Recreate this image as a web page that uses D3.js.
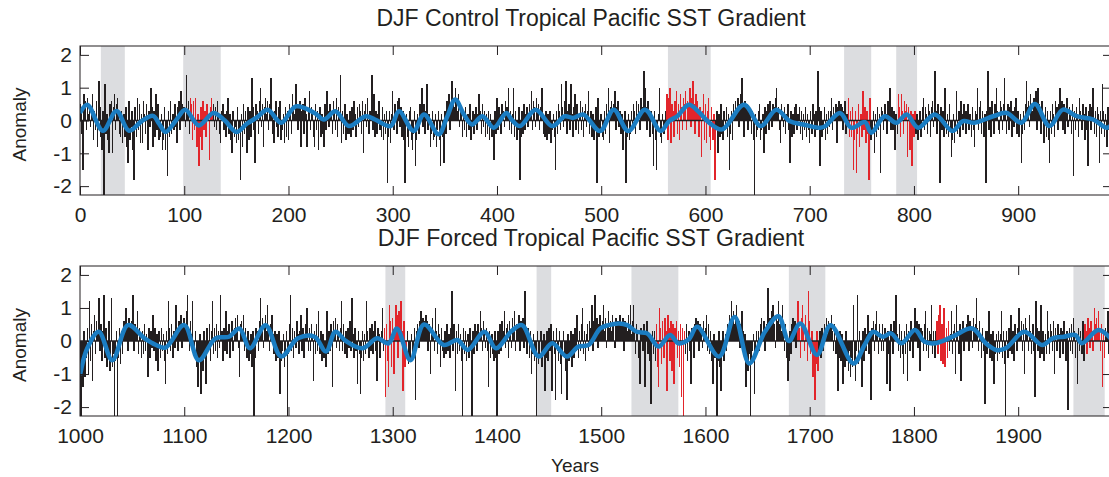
<!DOCTYPE html>
<html>
<head>
<meta charset="utf-8">
<script src="https://cdn.jsdelivr.net/npm/d3@7"></script>
<style>
  body { margin: 0; background: #fff; }
  svg { display: block; font-family: 'Liberation Sans', Arial, Helvetica, sans-serif; }
</style>
</head>
<body>
<div id="chart"></div>
<script>
// yearly DJF anomalies, control run (years 0..989)
const controlAnom = [
  0.5,0.3,-0.4,-1.5,0.8,0.6,-0.3,0.7,0.2,0.5,
  -0.2,0.4,0.8,-0.6,0.3,-0.3,0.6,-0.8,1.2,0.4,
  -0.5,-0.9,0.3,-2.3,1.1,-0.4,0.2,-0.6,-1.0,0.5,
  0.6,-1.0,0.4,0.8,-0.3,0.5,0.7,0.2,-0.4,-0.5,
  0.3,-0.7,0.2,-0.5,0.4,-0.8,-1.3,0.6,-0.6,-0.2,
  0.3,-0.9,-1.8,0.4,-0.5,0.7,-0.3,0.5,-0.7,0.2,
  -0.7,0.6,0.2,-0.4,0.5,-0.9,0.3,-0.2,1.0,0.4,
  -0.8,0.3,-0.5,0.8,-0.3,0.5,-0.6,-0.5,0.2,-0.9,
  -0.6,0.4,-0.9,-0.3,-1.7,0.3,-0.5,0.6,-0.4,0.2,
  -0.3,0.5,-0.2,-0.7,0.4,0.6,-0.3,0.9,0.5,0.2,
  0.4,-0.2,1.4,0.3,0.6,-0.4,0.7,0.5,-0.6,0.6,
  -0.3,0.7,-0.8,0.2,-1.4,-0.5,0.4,-0.9,0.6,-0.3,
  0.3,-0.5,0.5,0.2,-1.2,0.4,0.7,0.3,0.5,-0.2,
  0.4,-0.3,0.6,0.2,-0.4,-0.7,0.3,0.5,-0.3,0.2,
  -0.5,0.3,0.7,-0.4,0.2,-0.6,-1.0,0.3,-0.5,-0.2,
  -0.7,0.4,-0.6,-0.3,-1.8,0.2,-0.8,0.5,-0.4,0.3,
  -1.0,0.4,-0.6,0.3,-0.5,1.3,0.4,-0.3,-1.3,0.5,
  0.3,-0.4,0.6,1.0,-0.2,0.5,-0.8,0.4,0.7,0.2,
  0.6,-0.3,0.5,1.3,0.2,-0.4,-0.7,0.3,0.6,-0.2,
  -0.5,0.4,0.6,-0.6,-0.3,0.2,-0.7,0.4,-0.5,0.3,
  -0.6,0.5,0.3,-0.4,0.8,0.4,0.2,1.1,0.5,-0.3,
  0.4,0.6,-0.8,0.3,0.5,-0.4,0.7,0.2,-0.8,0.3,
  0.9,-0.3,0.4,0.2,-0.5,-0.8,0.5,-0.3,0.3,-0.9,
  0.4,-0.5,0.2,-0.4,-0.8,0.5,-0.3,0.9,0.3,-0.2,
  0.5,0.2,-0.4,0.6,0.3,-0.3,0.7,-0.5,0.4,0.2,
  1.4,-0.7,0.3,-0.4,0.5,-0.6,0.2,-0.4,-0.4,0.3,
  -0.5,0.4,-0.3,0.6,0.2,-0.5,0.4,-0.2,0.5,0.3,
  -0.4,0.6,-1.0,0.3,0.5,-0.2,0.7,-0.4,0.3,0.2,
  1.4,-0.3,0.8,-0.5,0.3,-0.4,0.2,0.6,-0.3,-0.5,
  0.4,-0.6,0.2,-0.4,0.3,-1.9,-0.5,0.3,-0.7,0.2,
  0.9,-0.3,0.5,0.3,-0.4,0.6,0.7,-0.2,0.4,-0.5,
  0.3,-0.6,-1.9,0.2,-0.5,-0.8,0.3,0.4,-0.6,-0.9,
  -0.4,0.3,-1.4,-0.6,0.2,-0.4,0.5,0.3,1.0,-0.2,
  0.5,-0.4,0.3,1.1,-0.3,0.2,-0.8,-0.4,0.3,-0.6,
  -0.5,0.2,-0.8,-0.3,0.3,-0.6,-1.4,0.2,-0.5,-1.3,
  0.3,-0.4,0.6,0.2,0.8,-0.3,0.5,1.2,0.7,0.4,
  1.0,0.6,0.3,0.8,-0.2,0.4,0.2,-0.5,0.3,-0.3,
  0.4,-0.5,0.2,-0.3,0.5,-0.6,-0.2,0.3,-0.4,0.2,
  0.4,-0.3,0.2,0.8,0.3,-0.4,0.5,-0.2,0.3,-0.5,
  0.2,-0.4,0.3,-0.6,0.2,-0.5,-0.3,-1.2,0.3,-0.4,
  0.7,-0.3,0.4,0.2,-0.4,0.5,0.3,-0.2,0.6,0.4,
  0.4,1.0,-0.3,0.3,-0.4,0.2,1.0,-0.5,0.3,-0.6,
  -0.3,0.4,-1.8,-0.5,0.3,-0.4,0.5,-0.3,0.2,0.4,
  -0.2,0.5,0.3,0.9,-0.3,0.6,0.4,-0.2,0.7,0.3,
  0.5,-0.3,0.4,1.0,0.2,-0.4,-0.5,0.3,-0.6,0.2,
  -0.4,0.3,-0.7,-0.3,0.2,-0.5,-1.5,0.3,-0.4,0.5,
  0.3,-0.3,1.1,0.4,-0.2,0.6,1.2,-0.4,0.3,0.5,
  -0.3,1.1,0.2,-0.5,0.4,0.8,-0.3,0.5,-0.4,0.2,
  0.6,-0.3,0.4,-0.5,0.3,0.5,-0.2,0.3,0.9,-0.4,
  0.3,-0.5,0.2,-0.6,-0.3,0.4,-1.9,0.7,-0.5,-0.3,
  0.2,-0.5,-0.6,0.3,-0.4,0.5,0.2,1.0,-0.7,0.4,
  0.6,0.3,0.5,0.9,-0.3,0.4,0.6,-0.2,0.3,-0.4,
  0.2,-0.9,-0.3,0.3,-1.9,-0.5,0.2,-0.6,-0.4,0.3,
  -0.2,0.5,0.3,-0.4,0.6,0.2,0.5,-0.3,0.7,0.4,
  0.3,1.5,1.0,0.4,-0.3,0.6,0.2,-0.5,0.3,-0.4,
  -1.4,0.3,-0.6,-1.5,-0.3,0.2,1.0,-0.5,-0.7,0.2,
  -0.4,-0.1,0.3,0.8,-0.6,0.7,1.0,-0.7,0.5,0.3,
  -0.5,0.6,0.9,-0.4,0.5,-0.6,0.8,0.4,-0.3,0.7,
  0.5,0.9,-0.3,0.6,0.4,1.0,-0.2,0.7,1.2,0.5,
  -0.4,0.8,0.6,0.3,-0.5,0.4,-1.1,0.3,0.8,-0.6,
  0.5,-0.7,0.3,0.7,-0.5,-0.9,0.4,-0.6,0.2,-1.8,
  -0.3,0.3,-1.0,0.2,-0.5,0.5,-0.4,-0.6,0.3,-0.3,
  0.4,-0.5,0.2,-1.5,-0.4,0.3,-0.6,0.5,0.2,0.6,
  0.3,0.7,-0.2,0.5,0.8,1.3,0.4,-0.5,0.6,0.3,
  0.5,-0.3,0.4,0.2,-0.4,0.3,-0.6,-2.3,0.2,-0.5,
  -0.3,0.3,0.5,-0.6,-0.3,0.2,-1.0,0.4,-0.4,0.3,
  0.5,-0.3,0.6,0.3,-0.2,0.5,0.4,0.7,1.0,0.3,
  0.4,-0.3,-0.7,0.5,0.3,-0.2,0.4,-0.4,0.2,0.5,
  -0.3,-1.3,0.3,-0.5,0.2,-0.4,0.4,0.5,-0.3,0.2,
  0.4,-0.4,0.3,-0.6,0.2,-0.3,0.4,-0.5,0.2,-0.3,
  -0.7,0.3,-0.4,0.5,0.2,-0.5,0.3,-0.3,1.5,0.4,
  -1.4,0.3,-0.5,-0.3,0.4,-0.6,0.2,-0.4,0.3,-0.2,
  0.3,0.7,-0.3,0.4,0.2,0.5,-0.7,0.4,0.6,0.3,
  0.5,0.4,-0.3,0.3,0.6,-0.4,0.2,0.7,-0.5,0.3,
  -0.5,0.4,-1.5,-0.6,0.3,-1.6,-0.4,0.5,-0.8,0.2,
  -0.5,0.9,-0.3,0.4,-0.7,0.3,-0.4,-1.8,0.7,-0.6,
  -0.4,0.3,-1.0,0.2,-0.5,0.4,-0.3,0.2,-1.6,0.4,
  0.3,-0.3,0.5,0.2,-0.4,0.6,0.3,1.0,-0.3,0.4,
  -0.3,0.3,-0.9,0.2,-0.4,0.8,0.4,-0.5,0.8,0.3,
  -0.4,0.6,0.3,0.5,-1.1,0.4,-0.9,0.3,-1.4,0.2,
  -0.5,0.3,-0.4,0.2,-0.6,-0.3,0.3,-0.5,0.4,0.7,
  -0.3,0.4,0.2,-0.4,0.5,0.3,-0.5,0.4,0.6,-0.2,
  1.5,0.3,-0.4,0.5,0.2,-1.9,0.4,-0.3,0.3,-0.5,
  1.0,-0.4,0.2,-0.5,0.5,-0.3,-1.1,-0.6,0.2,-0.7,
  -0.3,0.9,-0.4,0.3,-0.5,0.6,0.2,-0.3,0.5,0.3,
  -0.4,0.3,0.5,-0.3,0.2,-0.5,0.4,-0.3,-0.8,0.3,
  0.2,1.0,-0.3,0.4,0.6,-0.4,0.3,-0.5,0.2,-1.9,
  0.3,1.5,-0.3,0.4,-0.5,0.6,0.2,-0.4,0.5,1.0,
  0.3,-0.3,-0.4,0.6,0.4,-0.3,0.5,1.3,0.3,-0.4,
  0.5,-0.3,0.4,0.6,-0.5,0.3,-0.2,0.4,0.7,-0.4,
  0.3,-0.5,0.2,-1.3,-0.4,0.3,-0.3,0.5,1.2,0.4,
  0.6,-0.2,0.8,0.5,0.3,0.7,0.4,0.9,-0.3,1.0,
  0.5,0.3,-0.4,0.6,0.2,-0.7,0.4,-0.5,0.3,-0.6,
  -1.3,0.3,-0.4,0.5,0.2,-0.5,0.6,0.4,-0.3,0.5,
  1.0,0.4,0.6,-0.3,0.5,-0.4,0.3,0.7,-0.2,0.4,
  0.3,-0.4,0.5,-1.7,0.3,-0.3,0.4,0.2,-0.5,0.7,
  0.3,-0.3,0.5,0.2,-0.6,0.4,-0.3,-1.4,0.3,0.5,
  -0.3,0.4,1.0,-0.4,0.3,-0.5,0.4,0.2,-1.3,0.3,
  -0.4,1.1,0.3,-0.5,0.2,-0.8,0.4,-0.3,0.9,-0.4
]

// yearly DJF anomalies, forced run (years 1000..1989)
const forcedAnom = [
  -1.3,-2.3,-0.8,-1.4,0.3,-1.1,-0.5,0.4,-1.0,1.2,
  -0.6,0.5,-1.2,0.3,0.8,-0.4,0.6,0.2,1.3,-0.3,
  0.5,-0.6,0.3,1.4,-0.5,0.4,-0.8,-0.3,0.6,-0.9,
  1.3,-0.8,-0.4,-2.3,-0.6,0.3,-2.3,-0.5,0.4,-0.7,
  0.3,-0.4,0.6,0.4,1.0,0.5,-0.3,0.7,0.4,0.2,
  0.6,1.4,-0.3,0.5,0.3,0.9,-0.4,0.4,0.2,-0.5,
  0.3,-0.4,0.5,-0.3,0.2,-1.1,0.4,-0.5,0.3,-0.2,
  0.8,-0.3,0.4,-0.6,0.2,-0.9,0.3,-0.5,0.4,-0.3,
  0.2,-0.6,-1.3,0.3,-0.4,1.2,0.4,-0.3,0.5,-0.5,
  0.3,-0.2,1.1,0.4,-0.3,0.6,0.3,0.8,-0.2,0.5,
  0.7,0.4,0.9,1.4,0.3,-0.3,0.6,0.2,1.2,-0.4,
  -0.5,0.3,-0.8,-1.4,-0.6,0.2,-1.6,-0.4,-0.9,0.3,
  -0.5,-1.3,0.4,-0.3,0.5,-0.6,0.3,1.2,-0.4,0.4,
  -0.3,0.5,-0.5,0.3,-0.2,1.4,0.3,-0.6,0.4,-0.3,
  0.9,-0.4,0.3,0.5,-0.5,0.2,0.6,-0.3,0.4,0.7,
  0.3,0.8,-0.2,-1.1,0.5,0.6,0.3,0.8,-0.3,0.4,
  -0.5,0.3,-0.6,-0.4,0.2,-0.8,0.3,-2.3,-0.5,0.4,
  0.3,-0.3,0.6,1.3,0.4,0.7,-0.2,0.5,0.8,0.3,
  1.1,0.4,-0.3,0.5,0.8,0.2,-0.4,0.3,-0.6,0.2,
  -0.5,0.3,-1.6,-0.6,-0.3,0.2,-0.8,-0.4,0.3,-2.3,
  -0.4,0.5,1.4,-0.3,0.4,-0.5,0.3,-0.2,0.6,0.2,
  -0.4,0.3,0.8,-0.3,0.4,-0.5,0.2,0.5,1.0,-0.3,
  0.4,-0.3,0.5,0.2,-1.2,0.3,-0.4,0.5,-0.3,0.9,
  -0.4,0.3,-0.6,0.2,-0.5,-0.3,-0.8,0.9,-0.4,0.3,
  -0.3,0.5,-1.4,0.6,0.3,0.7,-0.2,0.5,0.3,-0.3,
  0.4,1.2,-0.3,0.5,-0.4,0.3,-0.5,0.4,-0.2,0.6,
  -0.3,1.3,0.2,-0.5,0.4,-0.3,-1.3,0.3,-0.4,-1.6,
  -0.5,0.3,-0.6,0.2,-0.4,1.2,0.3,-0.5,0.4,-0.3,
  0.5,-0.4,0.3,0.6,-0.3,-1.2,0.4,0.2,-0.5,0.3,
  1.0,-0.3,0.4,-1.7,0.5,-0.6,-1.4,1.1,0.6,-0.8,
  0.7,-1.0,0.4,1.1,0.8,-0.5,0.9,0.5,1.2,0.3,
  -1.5,0.6,-0.8,-0.4,0.3,-0.7,-0.5,-0.5,0.2,-0.6,
  -0.3,0.4,-1.8,0.3,0.5,-0.2,0.6,0.9,0.4,0.7,
  0.6,0.3,0.8,0.6,-0.3,0.5,-1.0,0.4,0.7,0.2,
  -0.3,1.0,0.3,-0.4,0.5,0.2,-0.8,0.4,-0.3,-0.5,
  0.3,-0.4,0.5,-0.3,0.2,-0.5,0.4,1.5,-0.3,0.5,
  -1.5,0.3,-0.4,0.5,-0.3,0.2,-0.6,-2.3,0.4,-0.4,
  0.3,-0.6,0.2,-0.5,0.4,-0.3,-2.3,0.3,-0.4,0.5,
  0.3,-0.3,0.5,0.2,0.9,0.4,-0.3,0.6,0.3,-0.2,
  0.4,-0.3,-1.4,0.3,-0.5,0.2,-0.4,-0.6,0.3,-0.5,
  -2.3,0.3,-0.4,0.5,-0.3,0.6,0.3,0.9,-0.2,0.4,
  0.5,-0.5,0.6,0.3,-0.2,0.7,0.4,0.9,-0.3,0.5,
  0.3,0.8,-0.3,0.6,0.4,0.7,-0.2,1.5,0.3,-0.4,
  0.4,-0.5,0.3,-1.0,-0.4,0.2,-0.6,-0.3,-2.3,0.3,
  -0.7,-0.4,0.3,-0.8,-0.3,0.2,-1.5,-0.5,0.3,-0.6,
  0.4,-0.3,0.5,-1.5,0.3,-0.4,-1.8,0.4,-0.3,-0.6,
  0.3,-0.7,-1.6,-0.4,0.3,-0.5,-0.9,-1.8,0.2,-0.6,
  -0.4,0.3,-0.8,0.2,-0.5,0.4,-0.3,0.8,-0.5,0.3,
  -0.3,0.5,1.0,-0.4,0.3,-0.6,0.2,0.5,-0.3,0.6,
  0.4,1.1,-0.3,0.6,1.4,0.3,0.7,-0.2,0.5,0.8,
  0.4,0.6,1.1,0.3,0.7,-0.2,0.5,0.9,0.4,0.6,
  0.3,0.8,0.5,-0.2,0.7,0.4,0.6,0.3,0.8,0.5,
  0.4,0.7,-0.3,0.6,0.5,0.3,0.8,0.4,1.1,0.2,
  0.6,1.1,0.3,-0.4,0.5,0.2,-0.5,-1.3,0.4,0.3,
  -0.3,0.5,-1.4,0.3,0.6,-0.4,0.2,-0.6,-1.9,0.3,
  -0.4,0.3,-0.6,0.5,-0.8,-1.4,1.0,0.4,-0.7,0.6,
  -0.5,0.7,0.3,-1.5,0.8,0.4,-0.6,0.6,-0.9,0.5,
  -1.3,0.4,0.6,-0.5,0.3,-0.8,0.5,-1.7,0.4,-2.3,
  0.3,-0.4,0.5,-0.6,0.3,-0.3,-1.3,0.4,0.2,-0.5,
  0.5,0.7,0.3,0.6,-0.3,0.5,0.4,-0.2,0.6,0.3,
  0.4,0.8,-0.3,0.5,-0.4,0.3,-0.6,-1.3,0.2,-0.5,
  -0.4,-2.3,-0.6,0.3,-0.8,-1.5,-0.4,0.3,-0.6,0.2,
  -0.3,0.5,0.3,0.8,0.4,1.2,0.6,0.9,0.5,0.7,
  1.1,0.4,0.6,-0.2,0.5,0.9,0.3,-0.4,0.2,-1.4,
  -0.6,-0.9,-0.4,-2.3,-0.7,-0.3,0.2,-1.6,-0.5,0.3,
  -0.4,0.3,-0.3,0.5,0.7,0.2,0.6,-0.3,0.4,0.5,
  1.6,0.4,0.7,0.3,0.9,1.1,0.5,-0.2,0.8,0.6,
  1.2,0.5,0.8,0.3,1.1,0.4,-0.3,0.5,-0.5,-1.2,
  -0.6,0.3,-0.4,0.5,0.7,0.3,0.6,-0.2,0.5,1.2,
  0.4,-0.5,0.7,1.1,0.5,-0.3,0.8,0.3,-0.6,1.5,
  0.6,-0.4,0.3,-1.1,-0.5,-1.8,-0.7,0.3,-0.9,-0.4,
  0.3,-0.5,0.4,-0.3,0.5,0.3,0.7,0.2,0.6,0.4,
  0.5,0.8,0.3,-0.3,0.5,-0.4,0.2,-1.5,-0.5,0.3,
  -0.6,0.2,-1.3,-0.4,-0.8,0.3,-0.6,-0.9,-0.3,-1.1,
  -0.5,-0.8,1.1,-0.6,-1.2,-0.3,1.4,-0.7,0.3,-0.5,
  -1.4,0.3,-0.6,0.4,-0.3,0.2,0.8,-0.4,0.3,-1.8,
  0.4,0.6,-0.3,0.5,0.9,0.3,-0.4,0.5,0.2,-0.3,
  0.5,-0.3,0.4,0.2,-1.3,0.3,-0.4,-1.5,0.5,0.3,
  -0.4,0.6,0.3,1.4,0.2,-0.3,0.5,-0.5,0.3,-0.4,
  -1.0,0.3,-0.4,0.5,-1.2,0.3,-0.3,0.6,0.2,-0.5,
  0.4,1.0,0.3,0.6,-0.2,0.5,-0.9,0.4,0.3,-0.3,
  0.5,0.9,-0.3,0.4,-0.5,0.3,0.2,1.1,-0.4,0.3,
  -0.5,0.3,0.6,-0.4,0.8,1.1,-0.6,0.5,-0.7,1.0,
  -0.8,0.4,-0.5,0.6,-0.3,0.2,0.9,-0.4,0.3,0.5,
  -1.0,1.1,0.3,-0.4,0.5,-1.2,0.3,0.6,-0.3,0.4,
  0.3,0.5,0.8,-0.3,0.6,0.4,-0.2,0.7,0.3,0.5,
  1.3,0.4,-0.3,0.6,0.2,-0.5,0.4,-0.3,-1.9,0.3,
  -0.4,0.3,0.9,-0.5,0.2,-0.6,0.3,-1.3,-0.4,0.2,
  -0.6,0.3,-0.4,0.2,0.9,-0.5,0.3,-0.7,-2.3,0.3,
  -0.5,0.4,-0.3,0.8,-0.4,0.3,-0.6,0.5,0.2,-0.3,
  0.4,1.0,0.3,0.6,-0.3,0.5,-1.0,0.7,0.4,0.3,
  -0.3,0.8,0.3,-0.4,0.5,-0.3,-1.7,1.2,0.4,-0.3,
  0.3,-0.5,1.1,-0.4,0.3,-0.6,0.2,-0.4,0.9,0.3,
  -0.4,0.5,0.3,-0.3,0.6,-1.0,0.4,-0.3,0.5,0.2,
  -0.5,0.4,0.3,-0.4,0.6,0.2,-0.6,0.3,-2.1,0.4,
  -0.3,0.5,-0.4,0.7,0.3,-0.5,0.2,-1.3,0.4,-0.3,
  0.3,-0.4,0.6,-0.6,0.5,0.3,-0.4,0.7,0.4,-0.2,
  0.6,0.3,-0.3,1.0,0.5,0.7,0.3,0.9,0.4,-0.3,
  0.5,-1.4,0.3,-0.5,0.4,0.2,0.9,-0.4,0.3,-0.2
]

// low-pass filtered curve, read at its turning points
const controlSmoothYears = [0,7,22,35,47,60,70,76,82,92,101,114,128,139,150,160,170,180,193,207,225,234,245,258,274,283,298,306,320,330,344,352,360,368,376,386,397,409,414,422,437,453,465,473,483,499,512,526,542,557,565,573,584,594,603,616,637,653,668,681,694,710,715,729,740,753,759,772,783,793,804,820,837,847,858,876,889,903,916,930,943,956,972,985,990]
const controlSmooth = [0.23,0.48,-0.31,0.29,-0.31,0.0,0.14,-0.1,-0.35,0.0,0.33,-0.15,0.23,0.0,-0.35,-0.1,0.1,0.33,-0.07,0.43,0.23,0.03,0.28,-0.17,0.13,0.03,-0.17,0.28,-0.32,0.18,-0.42,0.1,0.64,0.2,-0.12,0.13,-0.22,0.23,0.03,-0.17,0.33,-0.17,0.13,0.08,0.18,-0.32,0.33,-0.32,0.33,-0.32,-0.02,0.13,0.48,0.25,-0.05,-0.27,0.48,-0.17,0.33,-0.02,-0.12,-0.22,-0.17,0.23,-0.22,-0.05,-0.37,0.13,-0.07,0.18,-0.22,0.18,-0.32,-0.02,-0.07,0.13,0.23,-0.07,0.5,-0.17,0.33,0.13,0.03,-0.22,-0.12]
const forcedSmoothYears = [1000,1007,1018,1031,1046,1062,1073,1082,1100,1114,1130,1143,1153,1163,1178,1193,1209,1225,1236,1245,1255,1271,1285,1296,1304,1317,1330,1349,1362,1372,1388,1399,1414,1424,1440,1453,1467,1478,1488,1499,1507,1517,1525,1534,1544,1555,1566,1574,1584,1592,1613,1628,1642,1657,1670,1680,1691,1707,1720,1742,1753,1761,1770,1778,1788,1801,1810,1820,1837,1856,1869,1879,1888,1906,1923,1933,1944,1955,1961,1977,1990]
const forcedSmooth = [-1.03,-0.22,0.28,-0.58,0.48,0.08,-0.12,-0.2,0.48,-0.58,0.08,0.13,0.38,-0.22,0.48,-0.47,0.08,0.13,-0.32,0.28,0.0,-0.22,0.08,-0.07,0.38,-0.58,0.5,-0.12,0.03,-0.27,0.28,-0.22,0.3,0.48,-0.47,-0.07,-0.47,-0.17,-0.12,0.38,0.48,0.53,0.48,0.28,0.23,-0.17,0.18,-0.07,0.05,0.43,-0.47,0.73,-0.68,0.28,0.75,0.0,0.53,-0.42,0.48,-0.68,-0.1,0.28,0.13,0.23,-0.07,0.33,-0.02,-0.07,0.13,0.38,-0.07,-0.27,-0.22,0.28,-0.12,0.08,0.13,0.18,-0.07,0.33,0.03]

// shaded periods and highlighted (red) years
const controlShades = [[20, 43], [99, 135], [564, 605], [733, 759], [783, 803]]
const controlReds = [[106, 127], [563, 609], [737, 758], [785, 801]]
const forcedShades = [[1293, 1312], [1438, 1452], [1529, 1574], [1680, 1715], [1953, 1983]]
const forcedReds = [[1292, 1313], [1553, 1580], [1689, 1708], [1822, 1833], [1964, 1983]]

const controlTicks = d3.range(0, 1000, 100)
const forcedTicks = d3.range(1000, 2000, 100)
const yTicks = [-2, -1, 0, 1, 2]

const W = 1109, H = 477
const left = 80, right = 1112
const ink = '#231f20'

const svg = d3.select('#chart').append('svg').attr('width', W).attr('height', H)

function drawPanel(p) {
  const x = d3.scaleLinear().domain([p.start, p.start + 990]).range([left, right])
  const y = d3.scaleLinear().domain([-2.27, 2.27]).range([p.bottom, p.top])
  const h = p.bottom - p.top

  svg.append('clipPath').attr('id', p.id)
    .append('rect').attr('x', left).attr('y', p.top).attr('width', right - left).attr('height', h)

  const plot = svg.append('g').attr('clip-path', `url(#${p.id})`)

  // gray periods
  plot.selectAll('rect.shade')
    .data(p.shades)
    .join('rect')
    .attr('class', 'shade')
    .attr('x', (d) => x(d[0]))
    .attr('width', (d) => x(d[1]) - x(d[0]))
    .attr('y', p.top)
    .attr('height', h)
    .attr('fill', '#dcdde0')

  const isRed = (yr) => p.reds.some((r) => yr >= r[0] && yr <= r[1])

  // yearly bars
  plot.selectAll('rect.bar')
    .data(p.values)
    .join('rect')
    .attr('class', 'bar')
    .attr('x', (d, i) => x(p.start + i) - 0.75)
    .attr('width', 1.5)
    .attr('y', (d) => y(Math.max(0, d)))
    .attr('height', (d) => Math.abs(y(d) - y(0)))
    .attr('shape-rendering', 'crispEdges')
    .attr('fill', (d, i) => (isRed(p.start + i) ? '#e2252b' : ink))

  plot.append('line')
    .attr('x1', left).attr('x2', right)
    .attr('y1', y(0)).attr('y2', y(0))
    .attr('stroke', ink).attr('stroke-width', 1.5)

  // smoothed curve
  const pts = p.smoothYears.map((yr, i) => [yr, p.smooth[i]])
  plot.append('path')
    .datum(pts)
    .attr('d', d3.line().x((d) => x(d[0])).y((d) => y(d[1])).curve(d3.curveCatmullRom.alpha(0.5)))
    .attr('fill', 'none')
    .attr('stroke', '#1b7dc2')
    .attr('stroke-width', 4.5)
    .attr('stroke-linejoin', 'round')

  // frame
  svg.append('rect')
    .attr('x', left).attr('y', p.top).attr('width', right - left).attr('height', h)
    .attr('fill', 'none').attr('stroke', ink).attr('stroke-width', 1)

  const styleAxis = (g) => {
    g.select('.domain').remove()
    g.selectAll('.tick line').attr('stroke', ink)
    g.selectAll('.tick text').attr('fill', ink).style('font-size', '21px')
  }

  svg.append('g')
    .attr('transform', `translate(${left},0)`)
    .call(d3.axisLeft(y).tickValues(yTicks).tickSize(-9).tickPadding(8).tickFormat((d) => String(d)))
    .call(styleAxis)

  svg.append('g')
    .attr('transform', `translate(${right},0)`)
    .call(d3.axisRight(y).tickValues(yTicks).tickSize(-9).tickFormat(''))
    .call(styleAxis)

  svg.append('g')
    .attr('transform', `translate(0,${p.bottom})`)
    .call(d3.axisBottom(x).tickValues(p.ticks).tickSize(-9).tickPadding(12).tickFormat((d) => String(d)))
    .call(styleAxis)

  svg.append('g')
    .attr('transform', `translate(0,${p.top})`)
    .call(d3.axisTop(x).tickValues(p.ticks).tickSize(-9).tickFormat(''))
    .call(styleAxis)

  svg.append('text')
    .attr('x', 591).attr('y', p.top - 20)
    .attr('text-anchor', 'middle')
    .attr('font-size', '23px')
    .attr('fill', ink)
    .text(p.title)

  svg.append('text')
    .attr('transform', `translate(26,${(p.top + p.bottom) / 2 + 4}) rotate(-90)`)
    .attr('text-anchor', 'middle')
    .attr('font-size', '19px')
    .attr('fill', ink)
    .text('Anomaly')
}

drawPanel({
  id: 'clip-control', start: 0, top: 46, bottom: 195,
  values: controlAnom, smoothYears: controlSmoothYears, smooth: controlSmooth,
  shades: controlShades, reds: controlReds, ticks: controlTicks,
  title: 'DJF Control Tropical Pacific SST Gradient'
})

drawPanel({
  id: 'clip-forced', start: 1000, top: 266, bottom: 416,
  values: forcedAnom, smoothYears: forcedSmoothYears, smooth: forcedSmooth,
  shades: forcedShades, reds: forcedReds, ticks: forcedTicks,
  title: 'DJF Forced Tropical Pacific SST Gradient'
})

svg.append('text')
  .attr('x', 575).attr('y', 472)
  .attr('text-anchor', 'middle')
  .attr('font-size', '19px')
  .attr('fill', ink)
  .text('Years')
</script>
</body>
</html>
